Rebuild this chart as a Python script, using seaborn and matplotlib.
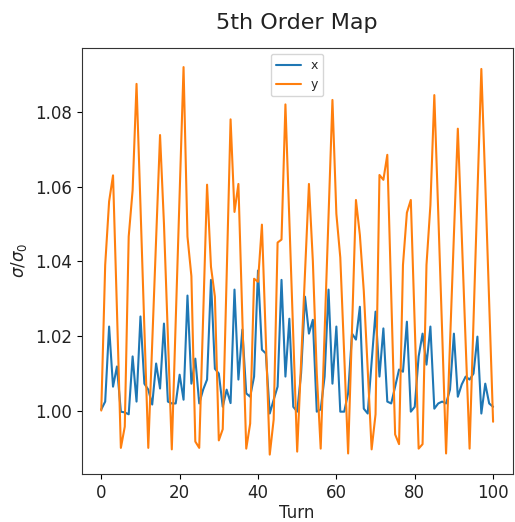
import numpy as np
import pandas as pd
import matplotlib
matplotlib.use("Agg")
import matplotlib.pyplot as plt
import seaborn as sns

turns = list(range(101))

sigma_x = [
    1.0003, 1.0024, 1.0225, 1.0064, 1.0118, 0.9997, 0.9995, 0.9990, 1.0145, 1.0024,
    1.0252, 1.0072, 1.0056, 1.0016, 1.0126, 1.0059, 1.0233, 1.0024, 1.0019, 1.0019,
    1.0096, 1.0029, 1.0308, 1.0072, 1.0139, 1.0019, 1.0056, 1.0083, 1.0350, 1.0112,
    1.0099, 1.0010, 1.0056, 1.0020, 1.0324, 1.0083, 1.0217, 1.0046, 1.0037, 1.0091,
    1.0375, 1.0163, 1.0153, 0.9992, 1.0029, 1.0064, 1.0350, 1.0091, 1.0246, 1.0010,
    0.9997, 1.0100, 1.0305, 1.0206, 1.0243, 0.9997, 1.0003, 1.0091, 1.0324, 1.0072,
    1.0225, 0.9997, 0.9997, 1.0046, 1.0206, 1.0190, 1.0278, 1.0005, 0.9992, 1.0130,
    1.0265, 1.0091, 1.0220, 1.0024, 1.0019, 1.0064, 1.0110, 1.0104, 1.0238, 0.9997,
    1.0010, 1.0145, 1.0206, 1.0123, 1.0225, 1.0005, 1.0019, 1.0024, 1.0019, 1.0056,
    1.0206, 1.0037, 1.0070, 1.0091, 1.0083, 1.0099, 1.0198, 0.9992, 1.0072, 1.0019,
    1.0010,
]

sigma_y = [
    1.0000, 1.0390, 1.0560, 1.0630, 1.0270, 0.9900, 0.9957, 1.0466, 1.0590, 1.0875,
    1.0550, 1.0220, 0.9900, 1.0180, 1.0460, 1.0738, 1.0500, 1.0200, 0.9896, 1.0240,
    1.0580, 1.0920, 1.0466, 1.0360, 0.9917, 0.9900, 1.0250, 1.0605, 1.0385, 1.0305,
    0.9920, 0.9950, 1.0360, 1.0780, 1.0532, 1.0607, 1.0250, 0.9898, 0.9965, 1.0353,
    1.0345, 1.0498, 1.0190, 0.9882, 0.9976, 1.0450, 1.0458, 1.0820, 1.0510, 1.0200,
    0.9890, 1.0130, 1.0370, 1.0607, 1.0400, 1.0100, 0.9898, 1.0210, 1.0520, 1.0832,
    1.0527, 1.0410, 1.0150, 0.9885, 1.0220, 1.0564, 1.0470, 1.0320, 1.0110, 0.9896,
    0.9990, 1.0631, 1.0618, 1.0685, 1.0310, 0.9936, 0.9910, 1.0390, 1.0530, 1.0564,
    1.0230, 0.9898, 0.9910, 1.0390, 1.0550, 1.0845, 1.0530, 1.0210, 0.9885, 1.0180,
    1.0470, 1.0755, 1.0470, 1.0180, 0.9898, 1.0240, 1.0580, 1.0915, 1.0610, 1.0290,
    0.9970,
]

series_names = ["x", "y"]

df = pd.concat([
    pd.DataFrame({"Turn": turns, "value": sigma_x, "plane": series_names[0]}),
    pd.DataFrame({"Turn": turns, "value": sigma_y, "plane": series_names[1]}),
])

sns.set_style("white")
plt.rcParams["font.family"] = ["DejaVu Sans"]
plt.rcParams["mathtext.fontset"] = "dejavusans"

fig = plt.figure(figsize=(5.15, 5.22), dpi=100)
fig.subplots_adjust(left=0.1586, right=0.9955, bottom=0.092, top=0.9086)
ax = fig.add_subplot(111)

sns.lineplot(data=df, x="Turn", y="value", hue="plane",
             palette=["#1f77b4", "#ff7f0e"], linewidth=1.5, ax=ax)

ax.set_xlim(-5, 105)
ax.set_xticks([0, 20, 40, 60, 80, 100])
ax.set_yticks([1.00, 1.02, 1.04, 1.06, 1.08])
ax.set_yticklabels(["1.00", "1.02", "1.04", "1.06", "1.08"])
ax.tick_params(axis="both", labelsize=12, length=3.5, width=0.8,
               direction="out", bottom=True, left=True, colors="black",
               labelcolor="#222222")
for s in ax.spines.values():
    s.set_color("#333333")
    s.set_linewidth(0.8)
    s.set_visible(True)

ax.set_xlabel("Turn", fontsize=12, color="#222222", labelpad=1.5)
ax.set_ylabel(r"$\sigma/\sigma_0$", fontsize=12, color="#222222")
ax.set_title("5th Order Map", fontsize=16, pad=13.5, color="#222222")

leg = ax.legend(loc="upper center", fontsize=9, frameon=True)
leg.get_frame().set_edgecolor("#cccccc")

fig.savefig("out.png", dpi=100)
